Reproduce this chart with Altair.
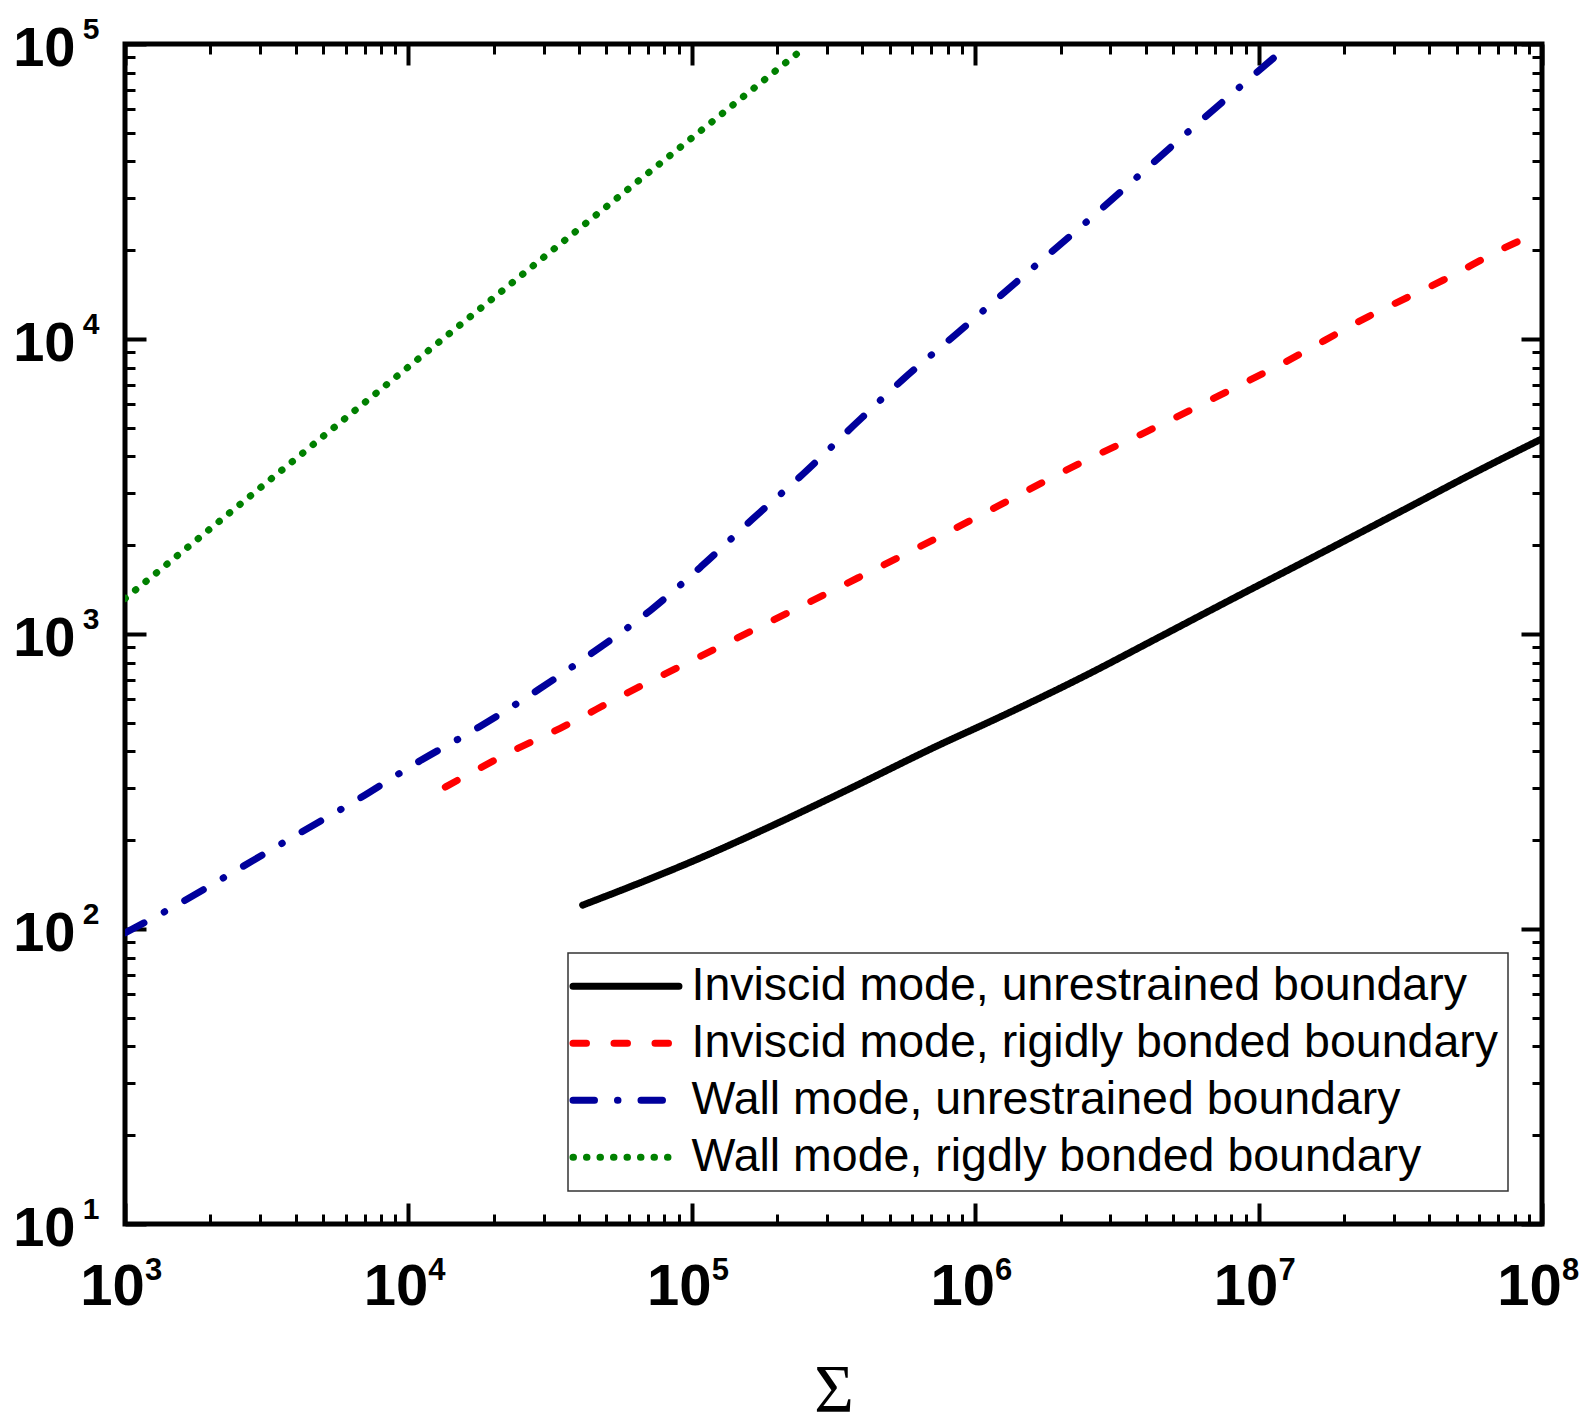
import altair as alt
import pandas as pd

# ---------------- data ----------------
series = [
    "Inviscid mode, unrestrained boundary",
    "Inviscid mode, rigidly bonded boundary",
    "Wall mode, unrestrained boundary",
    "Wall mode, rigdly bonded boundary",
]
colors = ["#000000", "#FF0000", "#00009C", "#008000"]
dashes = [[1, 0], [13.5, 27.5], [21.5, 23, 0.5, 23], [0.5, 13]]

inv_unr_x = [4.12e4, 6.05e4, 1.10e5, 1.94e5, 3.43e5, 7.52e5, 1.16e6, 2.47e6, 4.49e6,
             7.71e6, 1.65e7, 3.33e7, 5.73e7, 1.0e8]
inv_unr_y = [120.5, 139, 176, 225, 292, 422, 511, 726, 979,
             1285, 1875, 2667, 3508, 4590]

inv_rig_x = [1.35e4, 2.39e4, 3.43e4, 5.73e4, 1.04e5, 1.89e5, 3.38e5, 6.38e5, 1.22e6,
             2.40e6, 4.03e6, 7.71e6, 1.22e7, 2.44e7, 4.49e7, 8.59e7, 9.7e7]
inv_rig_y = [303, 406, 479, 621, 828, 1102, 1455, 1977, 2735,
             3837, 4853, 6622, 8279, 11912, 15849, 21777, 22800]

wall_unr_x = [1.0e3, 1.51e3, 2.44e3, 3.98e3, 6.59e3, 1.07e4, 1.77e4, 2.87e4, 4.53e4, 7.14e4,
              1.08e5, 1.64e5, 2.48e5, 3.70e5, 5.56e5, 8.65e5, 1.57e6, 2.37e6, 5.62e6, 1.29e7]
wall_unr_y = [97, 120, 157, 207, 274, 366, 483, 647, 873, 1202,
              1694, 2455, 3499, 5058, 7295, 10471, 17179, 24099, 50234, 100000]

wall_rig_x = [1.0e3, 1.15e4, 1.39e5, 2.35e5, 2.51e5]
wall_rig_y = [1318, 8970, 61900, 92700, 97500]

x_major = [1e3, 1e4, 1e5, 1e6, 1e7, 1e8]
y_major = [1e1, 1e2, 1e3, 1e4, 1e5]
x_minor = [k * 10 ** e for e in range(3, 8) for k in range(2, 10)]
y_minor = [k * 10 ** e for e in range(1, 5) for k in range(2, 10)]

rows = []
for name, xs, ys in zip(series,
                        [inv_unr_x, inv_rig_x, wall_unr_x, wall_rig_x],
                        [inv_unr_y, inv_rig_y, wall_unr_y, wall_rig_y]):
    for i, (xv, yv) in enumerate(zip(xs, ys)):
        rows.append({"series": name, "x": xv, "y": yv, "i": i})
df = pd.DataFrame(rows)

# ---------------- chart ----------------
W, H = 1417, 1180
MAJ, MIN = 21, 10
x_scale = alt.Scale(type="log", domain=[1e3, 1e8])
y_scale = alt.Scale(type="log", domain=[10, 1e5])

exp_expr = "'' + round(log(datum.value)/LN10)"

common = dict(labelFont="Liberation Sans", labelFontWeight="bold", labelColor="black",
              labelFlush=False, labelOverlap=False, labelBound=False,
              grid=False, domain=False, ticks=False, tickSize=0)

# "10" part of the labels
x_base_axis = alt.Axis(orient="bottom", values=x_major, labelExpr="'10'", labelFontSize=58,
                       labelPadding=34, labelOffset=-13,
                       title="Σ", titleFont="Liberation Serif", titleFontSize=68,
                       titleFontWeight="normal", titleColor="black",
                       titleBaseline="alphabetic", titleY=186, **common)
y_base_axis = alt.Axis(orient="left", values=y_major, labelExpr="'10'", labelFontSize=56,
                       labelPadding=50, labelOffset=4, title="", **common)
# exponent part of the labels
x_exp_axis = alt.Axis(orient="bottom", values=x_major, labelExpr=exp_expr, labelFontSize=31,
                      labelPadding=31, labelOffset=28, title="", **common)
y_exp_axis = alt.Axis(orient="left", values=y_major, labelExpr=exp_expr, labelFontSize=30,
                      labelPadding=26, labelOffset=-15, title="", **common)

legend = alt.Legend(title=None, orient="none", legendX=443, legendY=909,
                    symbolType="M-1.6,0H4.4", symbolSize=1248, symbolStrokeWidth=7,
                    symbolFillColor="transparent",
                    labelFont="Liberation Sans", labelFontSize=46.5, labelColor="black",
                    labelOffset=67, labelLimit=0, rowPadding=10, padding=10,
                    fillColor="white", strokeColor="#333333")

base = alt.Chart(df)

lines = base.mark_line(clip=True, strokeWidth=7, strokeCap="round", strokeJoin="round",
                       interpolate="monotone").encode(
    x=alt.X("x:Q", scale=x_scale, axis=x_base_axis),
    y=alt.Y("y:Q", scale=y_scale, axis=y_base_axis),
    color=alt.Color("series:N", scale=alt.Scale(domain=series, range=colors),
                    sort=series, legend=legend),
    strokeDash=alt.StrokeDash("series:N", scale=alt.Scale(domain=series, range=dashes),
                              sort=series, legend=legend),
    detail="series:N",
    order="i:Q",
)

exp_layer = base.mark_point(opacity=0, size=1).encode(
    x=alt.X("x:Q", scale=x_scale, axis=x_exp_axis),
    y=alt.Y("y:Q", scale=y_scale, axis=y_exp_axis),
)


def tick_axis(orient, values, size, width):
    return alt.Axis(orient=orient, values=values, offset=-size, tickSize=size,
                    tickWidth=width, tickColor="black", labels=False, domain=False,
                    grid=False, title="")


def tick_layer(xo, yo, xv, yv, size, width):
    return base.mark_point(opacity=0, size=1).encode(
        x=alt.X("x:Q", scale=x_scale, axis=tick_axis(xo, xv, size, width)),
        y=alt.Y("y:Q", scale=y_scale, axis=tick_axis(yo, yv, size, width)),
    )


# round line caps for the legend's line samples (applied to the compiled Vega spec)
legend_patch = [{"op": "add", "path": "/legends/0/encode",
                 "value": {"symbols": {"update": {"strokeCap": {"value": "round"}}}}}]

chart = alt.layer(
    lines,
    exp_layer,
    tick_layer("bottom", "left", x_major, y_major, MAJ, 4),
    tick_layer("bottom", "left", x_minor, y_minor, MIN, 3),
    tick_layer("top", "right", x_major, y_major, MAJ, 4),
    tick_layer("top", "right", x_minor, y_minor, MIN, 3),
).resolve_axis(x="independent", y="independent").properties(
    width=W, height=H,
    autosize=alt.AutoSizeParams(type="none"),
    padding={"left": 125, "top": 44, "right": 48, "bottom": 194},
    background="white",
    usermeta={"embedOptions": {"patch": legend_patch}},
).configure_view(stroke="black", strokeWidth=5).configure_legend(strokeWidth=1.5)

chart.save("out.html", embed_options={"renderer": "svg", "actions": False})
